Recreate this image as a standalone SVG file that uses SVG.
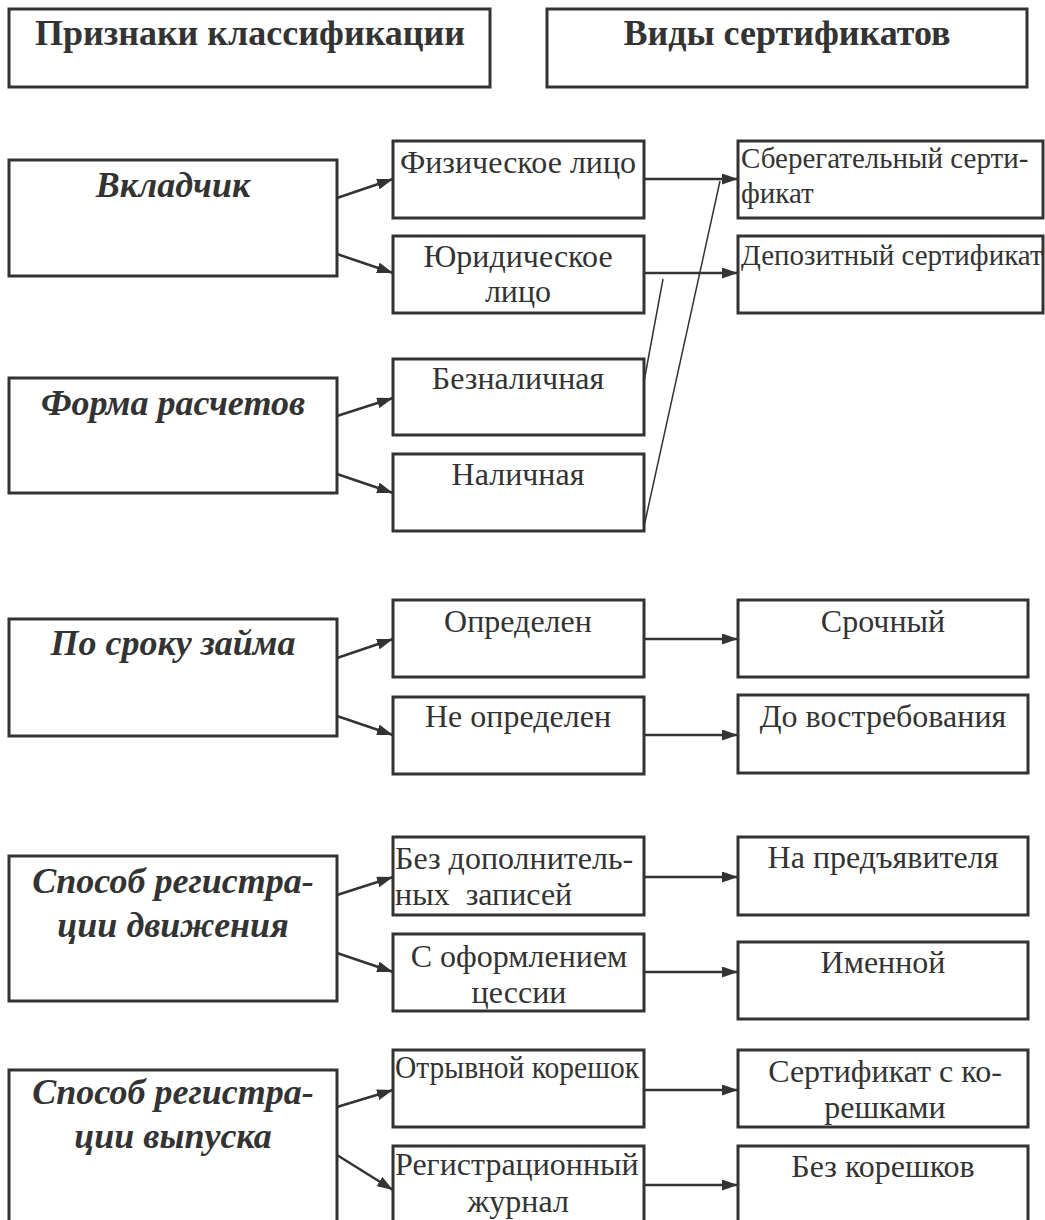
<svg xmlns="http://www.w3.org/2000/svg" width="1045" height="1220" viewBox="0 0 1045 1220">
<style>
.box{fill:#fff;stroke:#333;stroke-width:3}
.t{font-family:'Liberation Serif','DejaVu Serif',serif;font-size:32px;fill:#333}
.s{font-size:29px}
.c{text-anchor:middle}
.h{font-family:'Liberation Serif','DejaVu Serif',serif;font-size:36px;font-weight:bold;fill:#333;text-anchor:middle}
.k{font-family:'Liberation Serif','DejaVu Serif',serif;font-size:36px;font-weight:bold;font-style:italic;fill:#333;text-anchor:middle}
.a{stroke:#333;stroke-width:2.5;fill:none;marker-end:url(#ah)}
.l{stroke:#333;stroke-width:1.5;fill:none}
</style>
<defs>
<marker id="ah" markerUnits="userSpaceOnUse" markerWidth="16" markerHeight="11" refX="16" refY="5.5" orient="auto">
<path d="M0,0 L16,5.5 L0,11 z" fill="#333"/>
</marker>
</defs>
<rect width="1045" height="1220" fill="#fff"/>
<g id="connectors">
<line class="a" x1="337" y1="198" x2="393" y2="179"/>
<line class="a" x1="337" y1="254" x2="393" y2="273"/>
<line class="a" x1="644" y1="179" x2="738" y2="179"/>
<line class="a" x1="644" y1="273" x2="738" y2="273"/>
<line class="l" x1="643" y1="531" x2="720" y2="181"/>
<line class="l" x1="643" y1="387" x2="663" y2="279"/>
<line class="a" x1="337" y1="416" x2="393" y2="398"/>
<line class="a" x1="337" y1="474" x2="393" y2="493"/>
<line class="a" x1="337" y1="658" x2="393" y2="639"/>
<line class="a" x1="337" y1="716" x2="393" y2="735"/>
<line class="a" x1="644" y1="639" x2="738" y2="639"/>
<line class="a" x1="644" y1="735" x2="738" y2="735"/>
<line class="a" x1="337" y1="895" x2="393" y2="877"/>
<line class="a" x1="337" y1="953" x2="393" y2="972"/>
<line class="a" x1="644" y1="877" x2="738" y2="877"/>
<line class="a" x1="644" y1="972" x2="738" y2="972"/>
<line class="a" x1="337" y1="1107" x2="393" y2="1090"/>
<line class="a" x1="337" y1="1155" x2="393" y2="1190"/>
<line class="a" x1="644" y1="1090" x2="738" y2="1090"/>
<line class="a" x1="644" y1="1185" x2="738" y2="1185"/>
</g>
<g id="title1"><rect class="box" x="9" y="9" width="481" height="78"/><text class="h" x="250" y="45">Признаки классификации</text></g>
<g id="title2"><rect class="box" x="547" y="9" width="480" height="78"/><text class="h" x="787" y="45">Виды сертификатов</text></g>

<g id="vkladchik"><rect class="box" x="9" y="160" width="328" height="116"/><text class="k" x="173" y="197">Вкладчик</text></g>
<g id="fiz"><rect class="box" x="393" y="141" width="251" height="77"/><text class="t c" x="518" y="173">Физическое лицо</text></g>
<g id="yur"><rect class="box" x="393" y="236" width="251" height="77"/><text class="t c" x="518" y="267">Юридическое</text><text class="t c" x="518" y="302">лицо</text></g>
<g id="sber"><rect class="box" x="738" y="141" width="305" height="77"/><text class="t s" x="741" y="168">Сберегательный серти-</text><text class="t s" x="741" y="203">фикат</text></g>
<g id="depo"><rect class="box" x="738" y="236" width="305" height="77"/><text class="t s" x="741" y="265">Депозитный сертификат</text></g>

<g id="forma"><rect class="box" x="9" y="378" width="328" height="115"/><text class="k" x="173" y="415">Форма расчетов</text></g>
<g id="beznal"><rect class="box" x="393" y="359" width="251" height="76"/><text class="t c" x="518" y="389">Безналичная</text></g>
<g id="nal"><rect class="box" x="393" y="454" width="251" height="77"/><text class="t c" x="518" y="485">Наличная</text></g>

<g id="srok"><rect class="box" x="9" y="619" width="328" height="117"/><text class="k" x="173" y="655">По сроку займа</text></g>
<g id="opr"><rect class="box" x="393" y="600" width="251" height="77"/><text class="t c" x="518" y="632">Определен</text></g>
<g id="neopr"><rect class="box" x="393" y="697" width="251" height="77"/><text class="t c" x="518" y="727">Не определен</text></g>
<g id="srochny"><rect class="box" x="738" y="600" width="290" height="77"/><text class="t c" x="883" y="632">Срочный</text></g>
<g id="dovostr"><rect class="box" x="738" y="695" width="290" height="78"/><text class="t c" x="883" y="727">До востребования</text></g>

<g id="dvizh"><rect class="box" x="9" y="856" width="328" height="145"/><text class="k" x="173" y="893">Способ регистра-</text><text class="k" x="173" y="937">ции движения</text></g>
<g id="bezdop"><rect class="box" x="393" y="837" width="251" height="78"/><text class="t" x="395" y="869">Без дополнитель-</text><text class="t" x="395" y="905" xml:space="preserve">ных  записей</text></g>
<g id="ofor"><rect class="box" x="393" y="934" width="251" height="77"/><text class="t c" x="519" y="967">С оформлением</text><text class="t c" x="519" y="1003">цессии</text></g>
<g id="predj"><rect class="box" x="738" y="837" width="290" height="78"/><text class="t c" x="883" y="868">На предъявителя</text></g>
<g id="imen"><rect class="box" x="738" y="942" width="290" height="77"/><text class="t c" x="883" y="973">Именной</text></g>

<g id="vypusk"><rect class="box" x="9" y="1070" width="328" height="165"/><text class="k" x="173" y="1104">Способ регистра-</text><text class="k" x="173" y="1148">ции выпуска</text></g>
<g id="otryv"><rect class="box" x="393" y="1050" width="251" height="77"/><text class="t" x="395" y="1078" textLength="244" lengthAdjust="spacingAndGlyphs">Отрывной корешок</text></g>
<g id="regzh"><rect class="box" x="393" y="1146" width="251" height="90"/><text class="t" x="395" y="1175">Регистрационный</text><text class="t c" x="518" y="1212">журнал</text></g>
<g id="sertkor"><rect class="box" x="738" y="1050" width="290" height="77"/><text class="t c" x="885" y="1082">Сертификат с ко-</text><text class="t c" x="885" y="1118">решками</text></g>
<g id="bezkor"><rect class="box" x="738" y="1146" width="290" height="90"/><text class="t c" x="883" y="1177">Без корешков</text></g>
</svg>
